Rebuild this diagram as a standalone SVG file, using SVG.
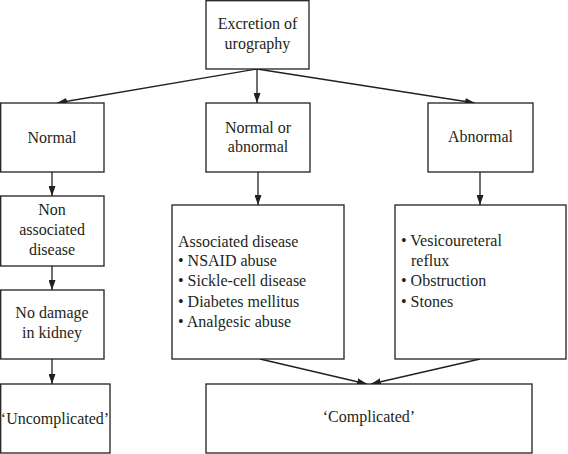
<svg xmlns="http://www.w3.org/2000/svg" width="568" height="454" viewBox="0 0 568 454">
<style>
.box{fill:#fff;stroke:#231f20;stroke-width:1.3}
.t{font-family:'Liberation Serif','Times New Roman',serif;font-size:16px;fill:#231f20}
.c{text-anchor:middle}
.ln{stroke:#231f20;stroke-width:1.3;fill:none;marker-end:url(#ah)}
</style>
<defs>
<marker id="ah" viewBox="0 0 10 7" refX="10" refY="3.5" markerWidth="10" markerHeight="7" markerUnits="userSpaceOnUse" orient="auto">
<path d="M0,0 L10,3.5 L0,7 Z" fill="#231f20"/>
</marker>
</defs>
<rect width="568" height="454" fill="#fff"/>
<g id="connectors">
<line class="ln" x1="257" y1="69" x2="57" y2="103"/>
<line class="ln" x1="257" y1="69" x2="257" y2="103"/>
<line class="ln" x1="257" y1="69" x2="475" y2="103"/>
<line class="ln" x1="52" y1="172" x2="52" y2="196"/>
<line class="ln" x1="52" y1="266" x2="52" y2="290"/>
<line class="ln" x1="52" y1="359" x2="52" y2="384"/>
<line class="ln" x1="258" y1="172" x2="258" y2="205"/>
<line class="ln" x1="480" y1="172" x2="480" y2="205"/>
<line class="ln" x1="260" y1="359" x2="367" y2="384"/>
<line class="ln" x1="480" y1="359" x2="371" y2="384"/>
</g>
<g id="excretion">
<rect class="box" x="206" y="0.7" width="103" height="68.3"/>
<text class="t c" x="257.5" y="29">Excretion of</text>
<text class="t c" x="257.5" y="49">urography</text>
</g>
<g id="normal">
<rect class="box" x="0.7" y="103" width="103.3" height="69"/>
<text class="t c" x="52" y="143">Normal</text>
</g>
<g id="normal-or-abnormal">
<rect class="box" x="206" y="103" width="104" height="69"/>
<text class="t c" x="258" y="133">Normal or</text>
<text class="t c" x="258" y="152">abnormal</text>
</g>
<g id="abnormal">
<rect class="box" x="428" y="103" width="105" height="69"/>
<text class="t c" x="480.5" y="142">Abnormal</text>
</g>
<g id="non-associated">
<rect class="box" x="0.7" y="196" width="103.3" height="70"/>
<text class="t c" x="52" y="215">Non</text>
<text class="t c" x="52" y="235">associated</text>
<text class="t c" x="52" y="255">disease</text>
</g>
<g id="no-damage">
<rect class="box" x="0.7" y="290" width="103.3" height="69"/>
<text class="t c" x="52" y="318">No damage</text>
<text class="t c" x="52" y="338">in kidney</text>
</g>
<g id="uncomplicated">
<rect class="box" x="0.7" y="384" width="109.3" height="69"/>
<text class="t c" x="55" y="424">‘Uncomplicated’</text>
</g>
<g id="associated">
<rect class="box" x="172" y="205" width="172" height="154"/>
<text class="t" x="178" y="247">Associated disease</text>
<text class="t" x="178" y="266">• NSAID abuse</text>
<text class="t" x="178" y="286">• Sickle-cell disease</text>
<text class="t" x="178" y="307">• Diabetes mellitus</text>
<text class="t" x="178" y="327">• Analgesic abuse</text>
</g>
<g id="abnormal-list">
<rect class="box" x="395" y="205" width="171" height="154"/>
<text class="t" x="401" y="246">• Vesicoureteral</text>
<text class="t" x="411" y="266">reflux</text>
<text class="t" x="401" y="286">• Obstruction</text>
<text class="t" x="401" y="307">• Stones</text>
</g>
<g id="complicated">
<rect class="box" x="206" y="384" width="326" height="69"/>
<text class="t c" x="369" y="422">‘Complicated’</text>
</g>
</svg>
